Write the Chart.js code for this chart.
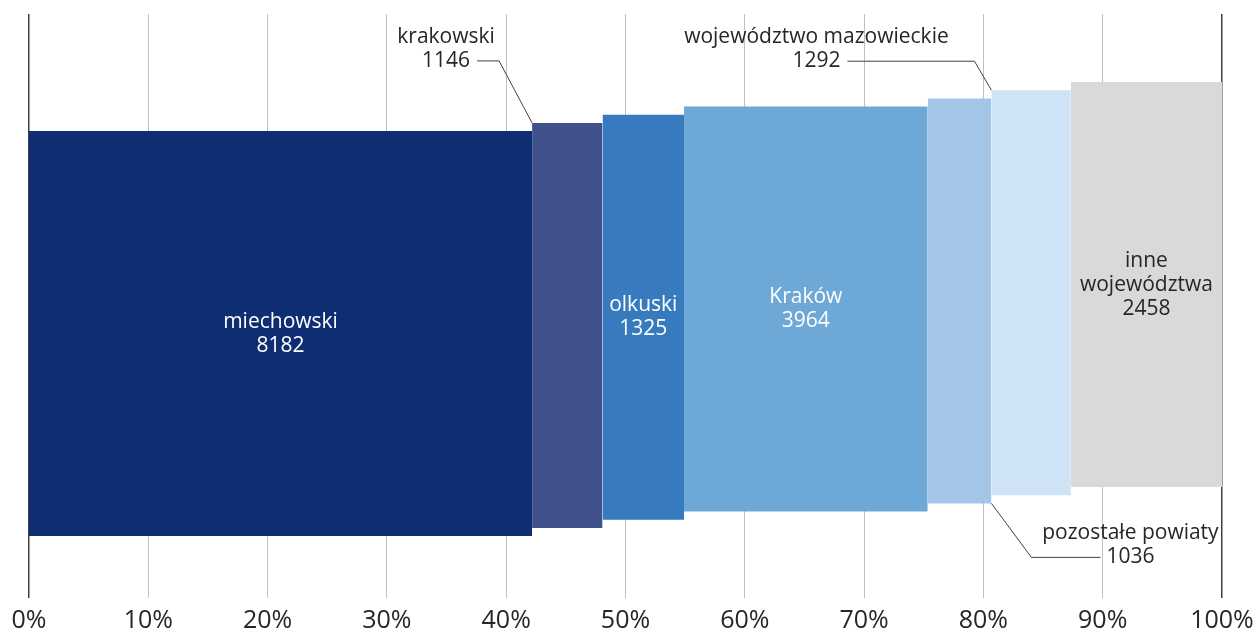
<!DOCTYPE html>
<html lang="pl">
<head>
<meta charset="utf-8">
<title>Struktura według miejsca</title>
<script src="https://cdn.jsdelivr.net/npm/chart.js@4/dist/chart.umd.min.js"></script>
<style>
  html, body { margin: 0; padding: 0; background: #fff; }
  #wrap { width: 1259px; height: 632px; }
</style>
</head>
<body>
<div id="wrap"><canvas id="wykres" width="1259" height="632"></canvas></div>
<script>
// dane
const kategorie = ['miechowski', 'krakowski', 'olkuski', 'Kraków', 'pozostałe powiaty', 'województwo mazowieckie', 'inne województwa'];
const wartosci = [8182, 1146, 1325, 3964, 1036, 1292, 2458];
const kolory = ['#0E2D72', '#40518C', '#377BBE', '#6EA8D6', '#A3C5E8', '#CFE3F7', '#D9D9D9'];
const etykietyOsi = ['0%', '10%', '20%', '30%', '40%', '50%', '60%', '70%', '80%', '90%', '100%'];

// wyglad
const FONT = '"Open Sans", Lato, sans-serif';
const DOL0 = 10.6;   // dolna krawedz pierwszego bloku (jednostki osi y)
const KROK = 1.4;    // przesuniecie kolejnych blokow w gore
const WYS = 69.35;   // wysokosc bloku

// etykiety wewnatrz blokow; poza blokami: odnosnik w px od rogu bloku
const wewnatrz = {
    0: { linie: ['miechowski', '8182'], kolor: '#ffffff' },
    2: { linie: ['olkuski', '1325'], kolor: '#ffffff' },
    3: { linie: ['Kraków', '3964'], kolor: '#ffffff' },
    6: { linie: ['inne', 'województwa', '2458'], kolor: '#262626' }
};
const odnosniki = {
    1: { rog: 'lg', linie: ['krakowski', '1146'], lamanie: [-33, -62], koniec: -55, tekstX: -86, tekstY: -62 },
    5: { rog: 'lg', linie: ['województwo mazowieckie', '1292'], lamanie: [-17, -29], koniec: -144, tekstX: -175, tekstY: -29 },
    4: { rog: 'pd', linie: ['pozostałe powiaty', '1036'], lamanie: [40, 54], koniec: 109, tekstX: 139, tekstY: 54 }
};

const suma = wartosci.reduce((a, b) => a + b, 0);
let narast = 0;
const zakresy = wartosci.map(v => {
    const od = narast / suma * 100;
    narast += v;
    return [od, narast / suma * 100];
});

const zbiory = kategorie.map((k, i) => {
    const dol = DOL0 + i * KROK;
    return {
        label: k,
        data: [{ x: zakresy[i][0], y: dol + WYS }, { x: zakresy[i][1], y: dol + WYS }],
        fill: { value: dol },
        backgroundColor: kolory[i],
        borderColor: 'rgba(0,0,0,0)',
        borderWidth: 0,
        pointRadius: 0,
        tension: 0
    };
});

// podpisy blokow
const podpisy = {
    id: 'podpisy',
    afterDatasetsDraw(chart) {
        const { ctx, scales: { x, y } } = chart;
        const lh = 24;
        ctx.save();
        ctx.font = '21px ' + FONT;
        ctx.textAlign = 'center';
        ctx.textBaseline = 'middle';

        Object.keys(wewnatrz).forEach(key => {
            const i = +key;
            const e = wewnatrz[i];
            const dol = DOL0 + i * KROK;
            const cx = (x.getPixelForValue(zakresy[i][0]) + x.getPixelForValue(zakresy[i][1])) / 2;
            const cy = (y.getPixelForValue(dol) + y.getPixelForValue(dol + WYS)) / 2;
            ctx.fillStyle = e.kolor;
            e.linie.forEach((t, j) => {
                ctx.fillText(t, cx, cy + (j - (e.linie.length - 1) / 2) * lh);
            });
        });

        Object.keys(odnosniki).forEach(key => {
            const i = +key;
            const o = odnosniki[i];
            const dol = DOL0 + i * KROK;
            let ax, ay;
            if (o.rog === 'lg') {
                ax = x.getPixelForValue(zakresy[i][0]);
                ay = y.getPixelForValue(dol + WYS);
            } else {
                ax = x.getPixelForValue(zakresy[i][1]);
                ay = y.getPixelForValue(dol);
            }
            ctx.strokeStyle = '#404040';
            ctx.lineWidth = 1;
            ctx.beginPath();
            ctx.moveTo(ax, ay);
            ctx.lineTo(ax + o.lamanie[0], ay + o.lamanie[1]);
            ctx.lineTo(ax + o.koniec, ay + o.lamanie[1]);
            ctx.stroke();

            ctx.fillStyle = '#262626';
            const n = o.linie.length;
            o.linie.forEach((t, j) => {
                ctx.fillText(t, ax + o.tekstX, ay + o.tekstY - (n - 1 - j) * lh);
            });
        });
        ctx.restore();
    }
};

new Chart(document.getElementById('wykres'), {
    type: 'line',
    data: { datasets: zbiory },
    options: {
        responsive: false,
        animation: false,
        layout: { padding: { left: 29, right: 37, top: 14, bottom: 0 } },
        scales: {
            x: {
                type: 'linear',
                min: 0,
                max: 100,
                afterBuildTicks: scale => {
                    scale.ticks = etykietyOsi.map((t, i) => ({ value: i * 10 }));
                },
                afterFit: scale => {
                    scale.height = 34;
                    scale.paddingLeft = 0;
                    scale.paddingRight = 0;
                },
                ticks: {
                    callback: (v, i) => etykietyOsi[i],
                    color: '#262626',
                    font: { family: FONT, size: 25, lineHeight: 1 },
                    padding: 10,
                    maxRotation: 0,
                    autoSkip: false
                },
                grid: {
                    color: ctx => (ctx.tick && (ctx.tick.value === 0 || ctx.tick.value === 100)) ? '#404040' : '#BFBFBF',
                    lineWidth: ctx => (ctx.tick && (ctx.tick.value === 0 || ctx.tick.value === 100)) ? 1.5 : 1,
                    drawTicks: false
                },
                border: { display: false }
            },
            y: {
                display: false,
                min: 0,
                max: 100
            }
        },
        plugins: {
            legend: { display: false },
            tooltip: { enabled: false }
        }
    },
    plugins: [podpisy]
});
</script>
</body>
</html>
